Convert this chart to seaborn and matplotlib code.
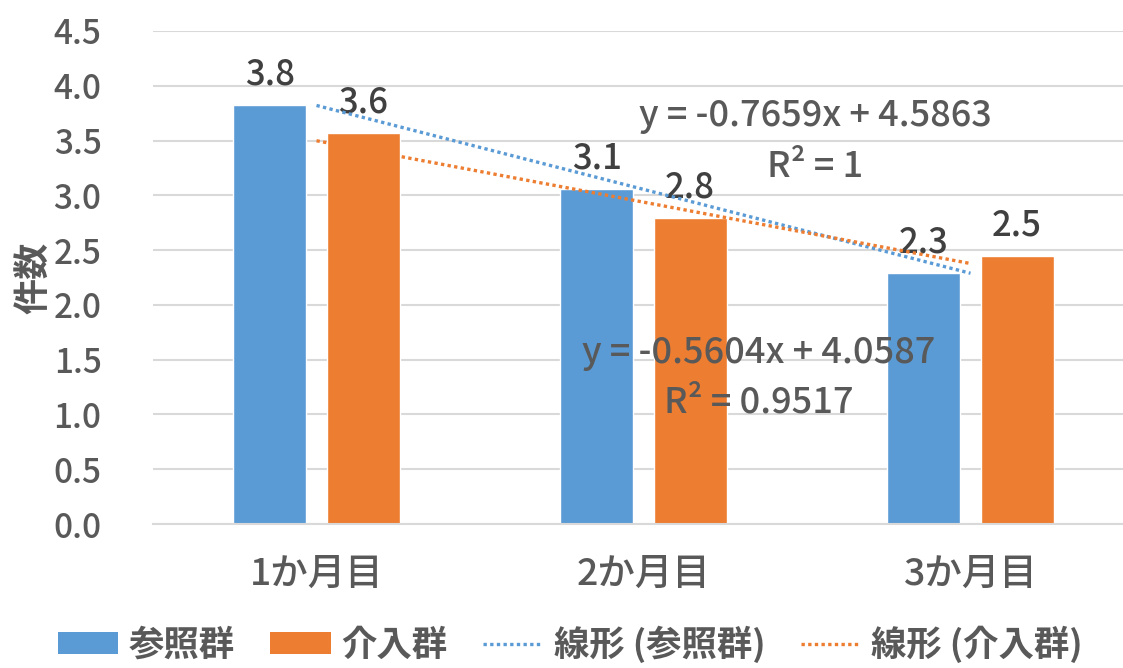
import numpy as np
import pandas as pd
import matplotlib
matplotlib.use("Agg")
import matplotlib.pyplot as plt
from matplotlib.patches import Patch
from matplotlib.lines import Line2D
import seaborn as sns

# Monthly counts for the two groups
months = ["1か月目", "2か月目", "3か月目"]
groups = ["参照群", "介入群"]
ref_values = [3.8204, 3.0545, 2.2886]
int_values = [3.5712, 2.7921, 2.4504]

ytick_values = [0.0, 0.5, 1.0, 1.5, 2.0, 2.5, 3.0, 3.5, 4.0, 4.5]
ylabel = "件数"
trend_names = ["線形 (参照群)", "線形 (介入群)"]

blue = "#5B9BD5"
orange = "#ED7D31"
text_gray = "#595959"
label_dark = "#404040"
grid_gray = "#D9D9D9"

sns.set_style("white")
plt.rcParams["font.family"] = ["Noto Sans CJK JP", "DejaVu Sans"]

df = pd.DataFrame({
    "month": months * 2,
    "group": [groups[0]] * 3 + [groups[1]] * 3,
    "value": ref_values + int_values,
})

fig = plt.figure(figsize=(11.23, 6.68), dpi=100)
ax = fig.add_axes([153 / 1123, 1 - 524 / 668, 981 / 1123, (524 - 31) / 668])

sns.barplot(data=df, x="month", y="value", hue="group", order=months,
            hue_order=groups, palette=[blue, orange], width=0.57, gap=0.218,
            saturation=1, legend=False, ax=ax, zorder=2)

ax.set_xlim(-0.5, 2.5)
ax.set_ylim(0, 4.5)
ax.set_yticks(ytick_values)
ax.set_yticklabels([f"{v:.1f}" for v in ytick_values], fontweight="medium")
for lbl in ax.get_xticklabels():
    lbl.set_fontweight("medium")
ax.yaxis.grid(True, color=grid_gray, linewidth=1.5, zorder=0)
ax.set_axisbelow(True)
for side in ["top", "right", "left"]:
    ax.spines[side].set_visible(False)
ax.spines["bottom"].set_color(grid_gray)
ax.spines["bottom"].set_linewidth(1.5)
ax.tick_params(axis="y", length=0, pad=37, labelsize=24, labelcolor=text_gray)
ax.tick_params(axis="x", length=0, pad=22, labelsize=27, labelcolor=text_gray)
ax.set_xlabel("")
ax.set_ylabel(ylabel, fontsize=26, fontweight="bold", color=text_gray)
ax.yaxis.set_label_coords(-101 / 981, 0.50)

# Value labels above each bar
for cont in ax.containers:
    ax.bar_label(cont, fmt="%.1f", padding=9, fontsize=25, fontweight="medium",
                 color=label_dark)

# Linear trendlines with equation and R²
xs = np.arange(1, len(months) + 1)
eq_pos = [((1.525, 3.72), (1.525, 3.26)), ((1.352, 1.56), (1.352, 1.11))]
for vals, color, (p_eq, p_r2) in zip([ref_values, int_values], [blue, orange], eq_pos):
    y = np.array(vals)
    slope, intercept = np.polyfit(xs, y, 1)
    fit = slope * xs + intercept
    r2 = 1 - np.sum((y - fit) ** 2) / np.sum((y - y.mean()) ** 2)
    ax.plot(xs - 1, fit, color=color, linewidth=2.4, linestyle=(0, (1, 1)),
            dash_capstyle="butt", zorder=3)
    sign = "+" if intercept >= 0 else "-"
    eq = f"y = {slope:.4f}x {sign} {abs(intercept):.4f}"
    r2_txt = f"{r2:.4f}".rstrip("0").rstrip(".")
    ax.text(*p_eq, eq, ha="center", va="center", fontsize=26, fontweight="medium",
            color=text_gray, zorder=4)
    ax.text(*p_r2, f"R² = {r2_txt}", ha="center", va="center", fontsize=26,
            fontweight="medium", color=text_gray, zorder=4)

handles = [
    Patch(facecolor=blue, edgecolor="none"),
    Patch(facecolor=orange, edgecolor="none"),
    Line2D([], [], color=blue, linewidth=2.4, linestyle=(0, (1, 1)), dash_capstyle="butt"),
    Line2D([], [], color=orange, linewidth=2.4, linestyle=(0, (1, 1)), dash_capstyle="butt"),
]
leg = fig.legend(handles, groups + trend_names, loc="center", bbox_to_anchor=(0.508, 0.036),
                 ncol=4, frameon=False, handlelength=1.7, handleheight=0.6,
                 handletextpad=0.3, columnspacing=1.0, borderpad=0.1,
                 prop={"size": 25.5, "weight": "bold"})
for t in leg.get_texts():
    t.set_color(text_gray)

fig.savefig("out.png", dpi=100)
